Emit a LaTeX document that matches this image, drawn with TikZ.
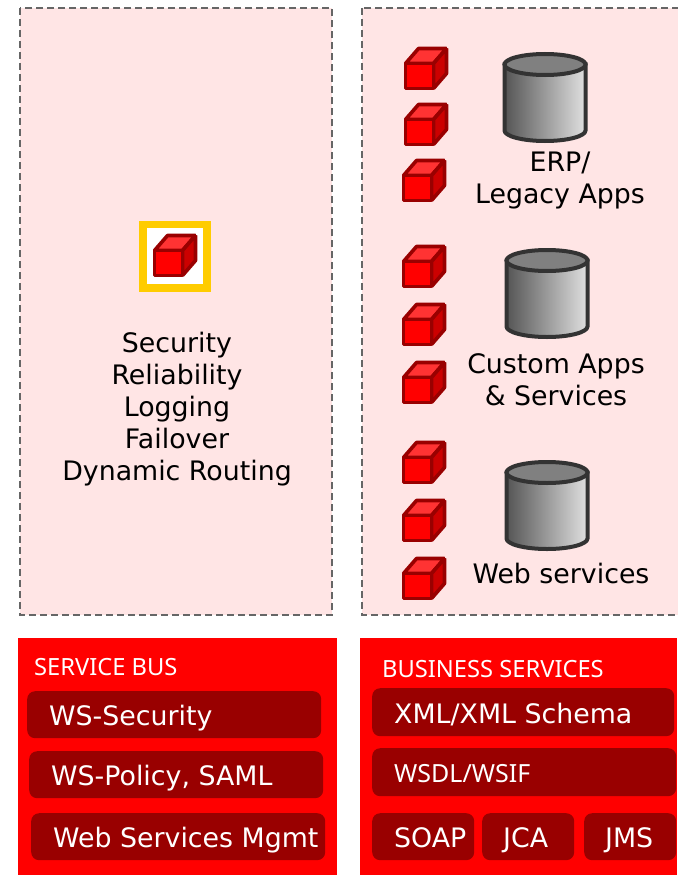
\documentclass[tikz,border=0pt]{standalone}
\usepackage{fontspec}
\setmainfont{DejaVu Sans}
\newfontfamily\headfont{Noto Sans}
\definecolor{panelpink}{HTML}{FFE5E5}
\definecolor{paneldash}{HTML}{666666}
\definecolor{busred}{HTML}{FF0000}
\definecolor{boxred}{HTML}{990000}
\definecolor{cubetop}{HTML}{FF3333}
\definecolor{cubeside}{HTML}{CC0000}
\definecolor{ringgold}{HTML}{FFCC00}
\definecolor{cylline}{HTML}{333333}
\definecolor{cyltop}{HTML}{808080}
\definecolor{cyldark}{HTML}{555555}
\definecolor{cyllight}{HTML}{E0E0E0}
\tikzset{
	panel/.style={fill=panelpink,draw=paneldash,dash pattern=on 7pt off 4pt,line width=1.7pt},
	bus/.style={fill=busred},
	wsbox/.style={fill=boxred,rounded corners=8pt,anchor=north west,inner sep=0pt},
	bodytext/.style={align=center,font=\fontsize{26.8}{32}\selectfont},
	wstext/.style={anchor=base west,inner sep=0pt,text=white,font=\fontsize{26.8}{32}\selectfont},
	headtext/.style={anchor=base west,inner sep=0pt,text=white,font=\headfont\fontsize{23.7}{28}\selectfont},
}
\newcommand{\redcube}[2]{
	\begin{scope}[shift={(#1,#2)},draw=boxred,line width=3.6pt,line join=bevel]
		\draw[fill=cubetop] (0,0) -- (13,-15) -- (41,-15) -- (28,0) -- cycle;
		\draw[fill=cubeside] (28,0) -- (41,-15) -- (41,10) -- (28,25) -- cycle;
		\draw[fill=busred] (0,0) rectangle (28,25);
	\end{scope}
}
\newcommand{\drum}[2]{
	\begin{scope}[shift={(#1,#2)},draw=cylline,line width=4pt]
		\draw[left color=cyldark,right color=cyllight] (0,0) -- (0,66) arc[start angle=180,end angle=360,x radius=40.5pt,y radius=10.5pt] -- (81,0) -- cycle;
		\draw[fill=cyltop] (40.5,0) ellipse[x radius=40.5pt,y radius=10.5pt];
	\end{scope}
}
\begin{document}
\begin{tikzpicture}[x=1pt,y=-1pt]
\useasboundingbox (0,0) rectangle (677,875);
\fill[white] (0,0) rectangle (677,875);

% top panels
\draw[panel] (20,8) rectangle (332,615);
\draw[panel] (362,8) rectangle (700,615);

% monitored service
\fill[ringgold] (139,221) rectangle (211,292);
\fill[white] (147,228) rectangle (203,284);
\redcube{154.5}{250.5}
\node[bodytext] (features) at (177,409) {Security\\Reliability\\Logging\\Failover\\Dynamic Routing};

% endpoints
\foreach \x/\y in {405.5/63.5,405.5/119.5,403.5/175.5,403.5/261.5,403.5/319.5,403.5/377.5,403.5/457.5,403.5/515.5,403.5/573.5} {
	\redcube{\x}{\y}
}
\drum{504.5}{64.5}
\drum{506.5}{260.5}
\drum{506.5}{472.5}
\node[bodytext] (erp) at (560,180.5) {ERP/\\Legacy Apps};
\node[bodytext] (custom) at (556,380) {Custom Apps\\\& Services};
\node[bodytext] (web) at (561,574) {Web services};

% bottom bars
\fill[bus] (18,638) rectangle (337,875);
\fill[bus] (360,638) rectangle (677,875);
\node[headtext] (bushead) at (34,675) {SERVICE BUS};
\node[headtext] (bizhead) at (382,677) {BUSINESS SERVICES};

\node[wsbox,minimum width=294pt,minimum height=47pt] (sec) at (27,691) {};
\node[wsbox,minimum width=294pt,minimum height=47pt] (pol) at (29,751) {};
\node[wsbox,minimum width=294pt,minimum height=47pt] (mgmt) at (31,813) {};
\node[wsbox,minimum width=302pt,minimum height=48pt] (xml) at (372,688) {};
\node[wsbox,minimum width=304pt,minimum height=48pt] (wsdl) at (372,748) {};
\node[wsbox,minimum width=102pt,minimum height=47pt] (soap) at (372,813) {};
\node[wsbox,minimum width=92pt,minimum height=47pt] (jca) at (482,813) {};
\node[wsbox,minimum width=92pt,minimum height=47pt] (jms) at (584,813) {};

\node[wstext] (sectext) at (49,725) {WS-Security};
\node[wstext] (poltext) at (51,785) {WS-Policy, SAML};
\node[wstext] (mgmttext) at (53,847) {Web Services Mgmt};
\node[wstext] (xmltext) at (394,723) {XML/XML Schema};
\node[headtext,font=\headfont\fontsize{25}{30}\selectfont] (wsdltext) at (394,782) {WSDL/WSIF};
\node[wstext] (soaptext) at (394,847) {SOAP};
\node[wstext] (jcatext) at (503,847) {JCA};
\node[wstext] (jmstext) at (605,847) {JMS};
\end{tikzpicture}
\end{document}
